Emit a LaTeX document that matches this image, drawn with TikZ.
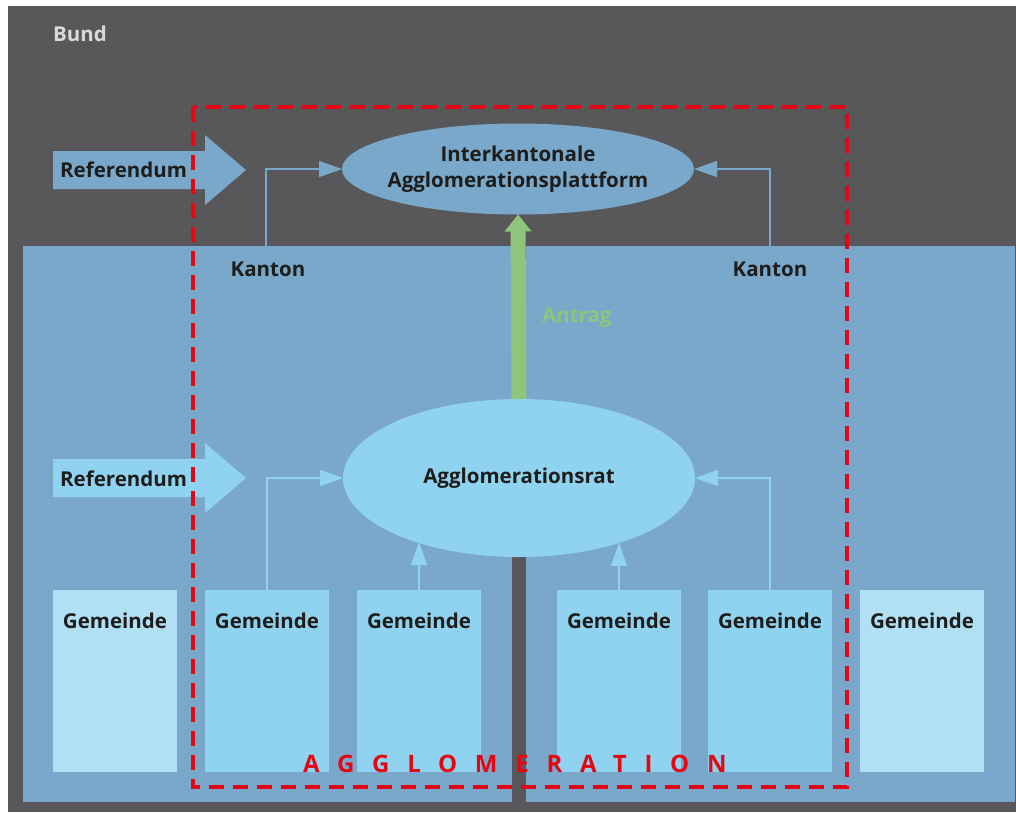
\documentclass[tikz,border=0pt]{standalone}
\usepackage{fontspec}
\setmainfont{Open Sans}
\usetikzlibrary{arrows.meta,shapes.geometric}

\definecolor{bundgrau}{HTML}{58585A}
\definecolor{kantonblau}{HTML}{79A8CB}
\definecolor{agglblau}{HTML}{8FD3F0}
\definecolor{gemhell}{HTML}{B1E0F4}
\definecolor{agglrot}{HTML}{E30613}
\definecolor{antraggruen}{HTML}{8FC47B}
\definecolor{schrift}{HTML}{1D1D1B}
\definecolor{bundschrift}{HTML}{DADADA}

\tikzset{
  lbl/.style={font=\fontsize{20.5}{26}\selectfont\bfseries, text=schrift, inner sep=0pt},
  oval/.style={ellipse, minimum width=352pt, inner sep=0pt, outer sep=0pt},
  gembox/.style={rectangle, minimum width=124pt, minimum height=182pt, inner sep=0pt, outer sep=0pt},
  kconn/.style={draw=kantonblau, line width=1.5pt, -{Triangle[length=23pt,width=16pt]}},
  gconn/.style={draw=agglblau, line width=1.5pt, -{Triangle[length=23pt,width=16pt]}},
  antrag/.style={draw=antraggruen, line width=15pt, -{Triangle[length=17pt,width=26pt]}},
  grenze/.style={draw=agglrot, line width=4pt, dash pattern=on 15pt off 9pt}
}

\begin{document}
\begin{tikzpicture}[x=1pt,y=-1pt]
  \useasboundingbox (0,0) rectangle (1016,812);

  % Bund
  \fill[bundgrau] (8,6) rectangle (1016,812);
  \node[lbl, text=bundschrift, anchor=base west] (bund) at (53,41) {Bund};
  \fill[kantonblau] (53,151) -- (205,151) -- (205,135) -- (246,170) -- (205,205) -- (205,189) -- (53,189) -- cycle;
  \node[lbl, anchor=base west] (ref1) at (60,177) {Referendum};

  % Kantone
  \fill[kantonblau] (23,246) rectangle (512,802);
  \fill[kantonblau] (526,246) rectangle (1015,802);
  \node[lbl, anchor=base] (k1) at (268,276) {Kanton};
  \node[lbl, anchor=base] (k2) at (770,276) {Kanton};
  \coordinate (k1top) at (266,246);
  \coordinate (k2top) at (770,246);

  % Gremien
  \node[oval, fill=kantonblau, minimum height=91pt] (ipf) at (518,169) {};
  \node[lbl, align=center] (ipftxt) at (ipf) {Interkantonale\\Agglomerationsplattform};
  \node[oval, fill=agglblau, minimum height=158pt, lbl] (rat) at (519,478) {Agglomerationsrat};
  \fill[agglblau] (53,459) -- (205,459) -- (205,443) -- (246,478) -- (205,513) -- (205,497) -- (53,497) -- cycle;
  \node[lbl, anchor=base west] (ref2) at (60,486) {Referendum};

  % Gemeinden
  \foreach \i/\x/\farbe in {1/115/gemhell, 2/267/agglblau, 3/419/agglblau, 4/619/agglblau, 5/770/agglblau, 6/922/gemhell} {
    \node[gembox, fill=\farbe] (g\i) at (\x,681) {};
    \node[lbl, anchor=base] (gt\i) at ([yshift=-38pt]g\i.north) {Gemeinde};
  }

  % Verbindungen
  \draw[kconn] (k1top) |- (ipf.west);
  \draw[kconn] (k2top) |- (ipf.east);
  \draw[gconn] (g2.north) |- (rat.west);
  \draw[gconn] (g5.north) |- (rat.east);
  \draw[gconn] (g3.north) -- (g3.north |- rat.212.6);
  \draw[gconn] (g4.north) -- (g4.north |- rat.327);
  \draw[antrag] (rat.north) -- (ipf.south);
  \node[lbl, text=antraggruen, anchor=base west] (antr) at (542,322) {Antrag};

  % Agglomeration
  \draw[grenze] (193,107) rectangle (847,787);
  \node[font=\fontsize{24}{28}\selectfont\bfseries\addfontfeature{LetterSpace=74}, text=agglrot, inner sep=0pt, anchor=base west] (agglo) at (303,772) {AGGLOMERATION};
\end{tikzpicture}
\end{document}
